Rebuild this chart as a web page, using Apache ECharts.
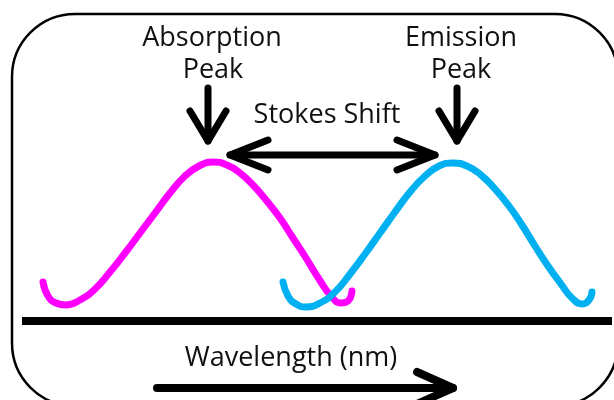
<!DOCTYPE html>
<html>
<head>
<meta charset="utf-8">
<title>Stokes Shift</title>
<script src="https://cdn.jsdelivr.net/npm/echarts@6/dist/echarts.min.js"></script>
<style>
	html, body { margin: 0; padding: 0; background: #fff; }
	#chart { width: 614px; height: 400px; }
</style>
</head>
<body>
<div id="chart"></div>
<script>
// 吸收光谱 (x = 波长方向, y = 向下)
var absorption = [
	[43, 282], [48, 296], [56, 303], [66, 305], [80, 300], [95, 289], [110, 272],
	[125, 253], [140, 233], [155, 213], [170, 193], [185, 176], [199, 166], [213, 162],
	[227, 165], [240, 173], [253, 185], [266, 200], [280, 218], [293, 238], [306, 258],
	[319, 279], [331, 296], [341, 303], [348, 301], [352, 291]
];

// 发射光谱
var emission = [
	[283, 282], [288, 296], [296, 304], [306, 307], [320, 303], [335, 292], [350, 274],
	[365, 254], [380, 233], [395, 212], [410, 192], [425, 176], [439, 166], [453, 163],
	[467, 166], [481, 175], [495, 189], [509, 206], [522, 225], [535, 246], [548, 266],
	[561, 284], [572, 298], [582, 304], [589, 300], [592, 292]
];

// 箭头: [起点, 终点]
var peakArrows = [
	[[208, 88], [208, 141]],
	[[457, 88], [457, 141]]
];
var shiftArrow = [[230, 155], [435, 155]];
var wavelengthArrow = [[157, 388], [453, 388]];
var baseline = [[22, 321], [612, 321]];

var labels = [
	{ text: "Absorption", x: 212, y: 38 },
	{ text: "Peak", x: 213, y: 70 },
	{ text: "Emission", x: 461, y: 38 },
	{ text: "Peak", x: 461, y: 70 },
	{ text: "Stokes Shift", x: 327, y: 115 },
	{ text: "Wavelength (nm)", x: 291, y: 358 }
];

var chart = echarts.init(document.getElementById("chart"));

// 箭头两翼
function chevron(tip, from, len, half) {
	var dx = tip[0] - from[0];
	var dy = tip[1] - from[1];
	var d = Math.sqrt(dx * dx + dy * dy);
	var ux = dx / d, uy = dy / d;
	var bx = tip[0] - ux * len, by = tip[1] - uy * len;
	return [[bx - uy * half, by + ux * half], tip, [bx + uy * half, by - ux * half]];
}

function blackLine(data, width) {
	return {
		type: "line",
		data: data,
		showSymbol: false,
		silent: true,
		animation: false,
		lineStyle: {
			color: "#000",
			width: width,
			cap: "round",
			join: "round"
		},
		z: 3
	};
}

var series = [
	{
		name: "Absorption",
		type: "line",
		data: absorption,
		smooth: 0.5,
		showSymbol: false,
		animation: false,
		lineStyle: { color: "#ff00ff", width: 7, cap: "round", join: "round" },
		z: 2
	},
	{
		name: "Emission",
		type: "line",
		data: emission,
		smooth: 0.5,
		showSymbol: false,
		animation: false,
		lineStyle: { color: "#00b0f0", width: 7, cap: "round", join: "round" },
		z: 2
	}
];

var baseSeries = blackLine(baseline, 8);
baseSeries.lineStyle.cap = "butt";
series.push(baseSeries);

peakArrows.forEach(function (a) {
	series.push(blackLine(a, 7));
	series.push(blackLine(chevron(a[1], a[0], 30, 18), 7));
});

series.push(blackLine(shiftArrow, 7));
series.push(blackLine(chevron(shiftArrow[0], shiftArrow[1], 38, 15), 7));
series.push(blackLine(chevron(shiftArrow[1], shiftArrow[0], 38, 15), 7));

series.push(blackLine(wavelengthArrow, 8));
series.push(blackLine(chevron(wavelengthArrow[1], wavelengthArrow[0], 36, 16), 8));

var graphics = [
	{
		type: "rect",
		shape: { x: 12, y: 14, width: 606, height: 392, r: 63 },
		style: { fill: "none", stroke: "#000", lineWidth: 2.5 },
		silent: true,
		z: 1
	}
];
labels.forEach(function (l) {
	graphics.push({
		type: "text",
		x: l.x,
		y: l.y,
		silent: true,
		style: {
			text: l.text,
			fill: "#111",
			font: "27px 'Open Sans'",
			align: "center",
			verticalAlign: "middle"
		},
		z: 5
	});
});

var option = {
	backgroundColor: "#fff",
	animation: false,
	grid: { left: 0, right: 0, top: 0, bottom: 0 },
	xAxis: { type: "value", min: 0, max: 614, show: false },
	yAxis: { type: "value", min: 0, max: 400, inverse: true, show: false },
	graphic: graphics,
	series: series
};

chart.setOption(option);
</script>
</body>
</html>
